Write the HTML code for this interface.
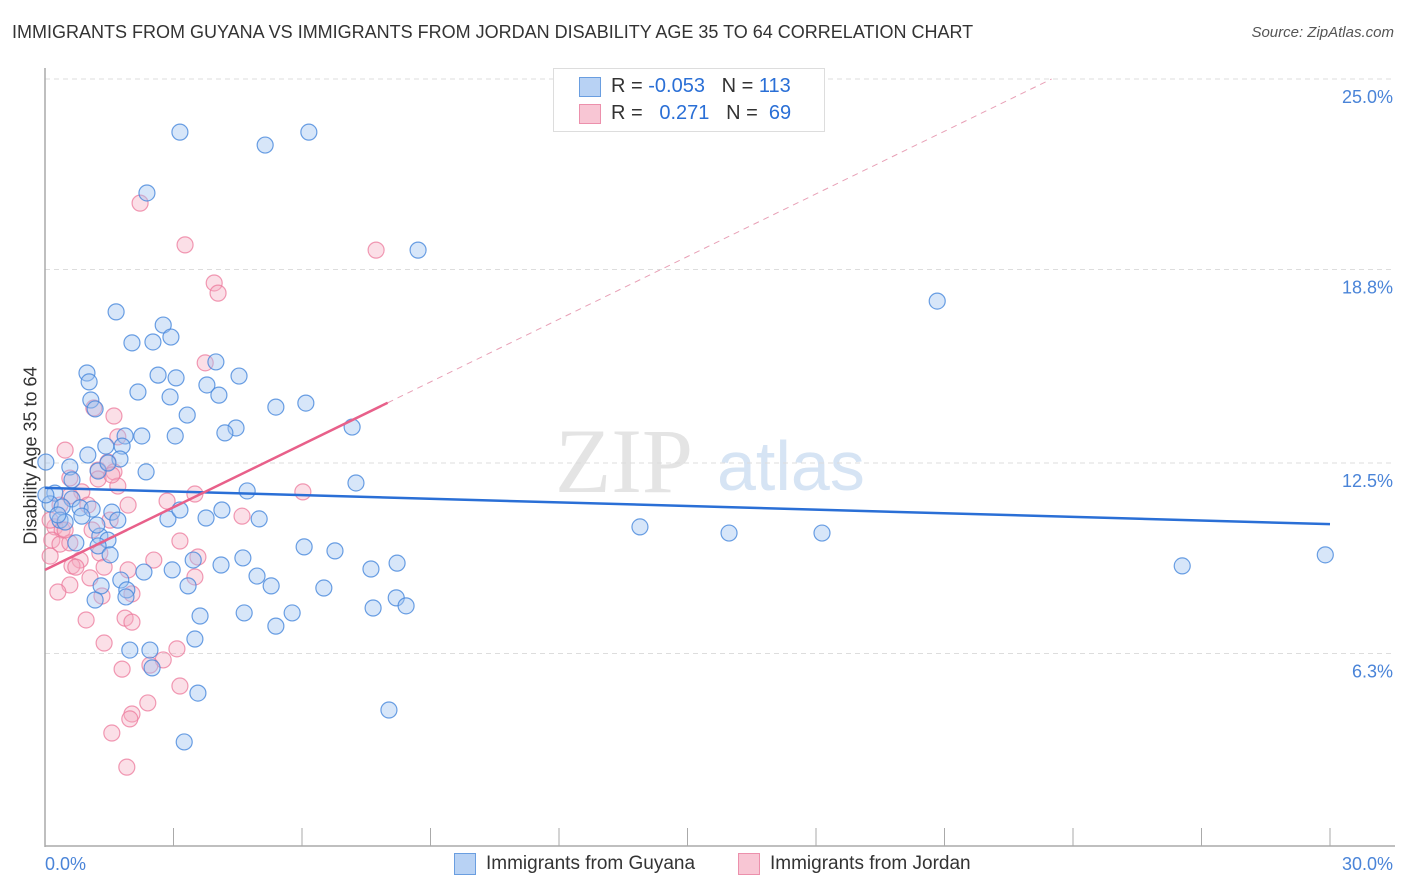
<!DOCTYPE html>
<html><head><meta charset="utf-8"><style>
body{margin:0;background:#fff;font-family:"Liberation Sans",sans-serif;}
#wrap{position:relative;width:1406px;height:892px;overflow:hidden}
.t{position:absolute;white-space:nowrap}
</style></head><body>
<div id="wrap">
<div class="t" style="left:12px;top:22px;font-size:18px;color:#333">IMMIGRANTS FROM GUYANA VS IMMIGRANTS FROM JORDAN DISABILITY AGE 35 TO 64 CORRELATION CHART</div>
<div class="t" style="right:12px;top:24px;font-size:15px;color:#555;font-style:italic">Source: ZipAtlas.com</div>
<div class="t" style="left:-58px;top:445px;font-size:18px;color:#333;transform:rotate(-90deg)">Disability Age 35 to 64</div>
<svg id="svg" width="1406" height="892" style="position:absolute;left:0;top:0"></svg>
</div>
<script>
const blueX=[3.15,5.14,6.16,2.38,8.71,20.83,1.66,2.76,2.94,2.03,2.52,3.99,0.98,2.64,3.06,4.53,1.03,2.17,3.78,2.92,4.06,1.07,1.17,3.32,5.39,6.09,4.46,4.20,7.17,1.87,2.26,3.04,1.80,1.42,1.00,1.75,0.58,1.24,2.36,1.47,4.72,7.26,0.23,0.63,0.12,0.40,0.82,1.10,1.56,0.86,0.35,0.47,1.70,2.87,3.15,3.76,4.13,5.00,13.89,15.97,18.14,1.28,1.47,1.24,0.72,6.05,6.77,4.62,3.46,4.11,2.97,2.31,4.95,7.61,8.22,26.55,29.89,1.77,1.91,3.34,5.28,6.51,1.31,1.17,1.89,8.20,8.43,7.66,4.65,3.62,5.77,5.39,3.50,1.98,2.45,2.50,3.57,8.03,3.25,0.63,0.30,1.52,1.21,0.02,0.02];
const blueY=[23.27,22.85,23.27,21.29,19.43,17.77,17.42,16.99,16.60,16.41,16.44,15.79,15.43,15.36,15.27,15.33,15.14,14.81,15.04,14.65,14.71,14.55,14.26,14.06,14.32,14.45,13.64,13.48,13.67,13.38,13.38,13.38,13.05,13.05,12.76,12.63,12.37,12.24,12.21,12.50,11.59,11.85,11.52,11.33,11.17,11.07,11.04,11.00,10.90,10.77,10.64,10.58,10.64,10.68,10.97,10.71,10.97,10.68,10.42,10.22,10.22,10.12,9.99,9.80,9.90,9.77,9.64,9.41,9.34,9.18,9.02,8.95,8.82,9.05,9.24,9.15,9.51,8.69,8.37,8.50,8.50,8.43,8.50,8.04,8.14,8.11,7.85,7.78,7.62,7.52,7.62,7.19,6.77,6.41,6.41,5.83,5.01,4.46,3.42,11.95,10.81,9.51,10.48,12.53,11.46];
const pinkX=[2.22,3.27,7.73,3.95,4.04,3.74,1.14,1.61,0.47,1.47,1.61,1.24,0.58,1.24,1.70,0.86,0.58,6.02,3.50,2.85,0.35,1.94,1.52,4.60,0.23,0.40,1.10,0.16,0.35,0.58,3.15,1.28,2.54,0.82,0.12,3.57,0.63,0.72,1.38,1.94,1.05,3.50,0.58,2.03,0.30,1.33,1.87,0.96,2.03,1.38,3.08,2.76,2.45,1.80,3.15,2.40,2.03,1.98,1.56,1.91,1.70,1.56,1.00,0.12,0.47];
const pinkY=[20.96,19.60,19.43,18.36,18.03,15.76,14.29,14.03,12.92,12.53,12.21,12.27,12.01,11.98,11.75,11.56,11.43,11.56,11.49,11.26,11.13,11.13,10.64,10.77,10.42,10.32,10.32,9.99,9.86,9.90,9.96,9.57,9.34,9.34,9.47,9.44,9.15,9.11,9.11,9.02,8.76,8.79,8.53,8.24,8.30,8.17,7.45,7.39,7.32,6.64,6.45,6.09,5.92,5.79,5.24,4.69,4.33,4.17,3.71,2.60,13.35,12.11,11.13,10.64,10.32];
const yTicks=[25.0,18.8,12.5,6.3];
const yTickLabels=["25.0%","18.8%","12.5%","6.3%"];
const blueTrend=[11.69,10.51];   // y at x=0 and x=30
const pinkTrend=[9.02,0.68];     // intercept, slope
const pinkSolidEnd=8.0;

const X0=45,X1=1330,Y0=847,PXY=30.72;
const sx=v=>X0+v/30*(X1-X0);
const sy=v=>Y0-v*PXY;
const svg=document.getElementById('svg');
const NS='http://www.w3.org/2000/svg';
function mk(t,a){const e=document.createElementNS(NS,t);for(const k in a)e.setAttribute(k,a[k]);svg.appendChild(e);return e;}

// watermark
let wm=mk('text',{x:555,y:492,'font-size':92,'font-family':'Liberation Serif,serif',fill:'#e4e4e4'});wm.textContent='ZIP';


let wm2=mk('text',{x:717,y:490,'font-size':70,'font-family':'Liberation Sans,sans-serif',fill:'#d6e4f4'});wm2.textContent='atlas';



yTicks.forEach((v,i)=>{
 const g=mk('line',{x1:X0,x2:1395,y1:sy(v),y2:sy(v),stroke:'#ddd','stroke-dasharray':'5,4'});
 
 
 const t=mk('text',{x:1393,y:sy(v)+24,'text-anchor':'end','font-size':18,fill:'#4a84d8','font-family':'Liberation Sans,sans-serif'});
 t.textContent=yTickLabels[i];
 
 
});
const ax=mk('line',{x1:X0,x2:X0,y1:68,y2:847,stroke:'#aaa','stroke-width':1.5});


const bx=mk('line',{x1:X0,x2:1395,y1:846,y2:846,stroke:'#aaa','stroke-width':1.5});


for(let i=0;i<=10;i++){
 const tk=mk('line',{x1:sx(i*3),x2:sx(i*3),y1:828,y2:846,stroke:'#aaa'});
 
 
}
[[0,'0.0%',45,'start'],[30,'30.0%',1393,'end']].forEach(d=>{
 const t=mk('text',{x:d[2],y:870,'text-anchor':d[3],'font-size':18,fill:'#4a84d8','font-family':'Liberation Sans,sans-serif'});
 t.textContent=d[1];
 
 
});

function dots(xs,ys,fill,stroke,name){
 xs.forEach((x,i)=>{
  const c=mk('circle',{cx:sx(x),cy:sy(ys[i]),r:8,fill:fill,stroke:stroke,'stroke-width':1.2});
  
  
 });
}
dots(pinkX,pinkY,'rgba(244,170,192,0.38)','rgba(236,120,155,0.75)','jordan-point');
dots(blueX,blueY,'rgba(160,196,240,0.42)','rgba(70,135,220,0.8)','guyana-point');

const bl=mk('line',{x1:sx(0),y1:sy(blueTrend[0]),x2:sx(30),y2:sy(blueTrend[1]),stroke:'#2a6fd6','stroke-width':2.5});


const pEnd=(25-pinkTrend[0])/pinkTrend[1];
const pd=mk('line',{x1:sx(pinkSolidEnd),y1:sy(pinkTrend[0]+pinkTrend[1]*pinkSolidEnd),x2:sx(pEnd),y2:sy(25),stroke:'#e8a0b6','stroke-width':1,'stroke-dasharray':'6,5'});


const pl=mk('line',{x1:sx(0),y1:sy(pinkTrend[0]),x2:sx(pinkSolidEnd),y2:sy(pinkTrend[0]+pinkTrend[1]*pinkSolidEnd),stroke:'#e8608a','stroke-width':2.5});


</script>
<div class="t" style="left:553px;top:68px;width:270px;height:62px;border:1px solid #ddd;background:#fff">
 <div class="t" style="left:25px;top:8px;width:20px;height:18px;background:#b8d2f4;border:1px solid #6a9ee0"></div>
 <div class="t" style="left:57px;top:6px;font-size:20px;color:#333">R = <span style="color:#2a6fd6">-0.053</span>&nbsp;&nbsp;&nbsp;N = <span style="color:#2a6fd6">113</span></div>
 <div class="t" style="left:25px;top:35px;width:20px;height:18px;background:#f8c6d4;border:1px solid #ec90ac"></div>
 <div class="t" style="left:57px;top:33px;font-size:20px;color:#333">R = &nbsp;&nbsp;<span style="color:#2a6fd6">0.271</span>&nbsp;&nbsp;&nbsp;N = &nbsp;<span style="color:#2a6fd6">69</span></div>
</div>
<div class="t" style="left:454px;top:853px;width:20px;height:20px;background:#b8d2f4;border:1px solid #6a9ee0"></div>
<div class="t" style="left:486px;top:853px;font-size:19px;color:#333">Immigrants from Guyana</div>
<div class="t" style="left:738px;top:853px;width:20px;height:20px;background:#f8c6d4;border:1px solid #ec90ac"></div>
<div class="t" style="left:770px;top:853px;font-size:19px;color:#333">Immigrants from Jordan</div>
</body></html>
